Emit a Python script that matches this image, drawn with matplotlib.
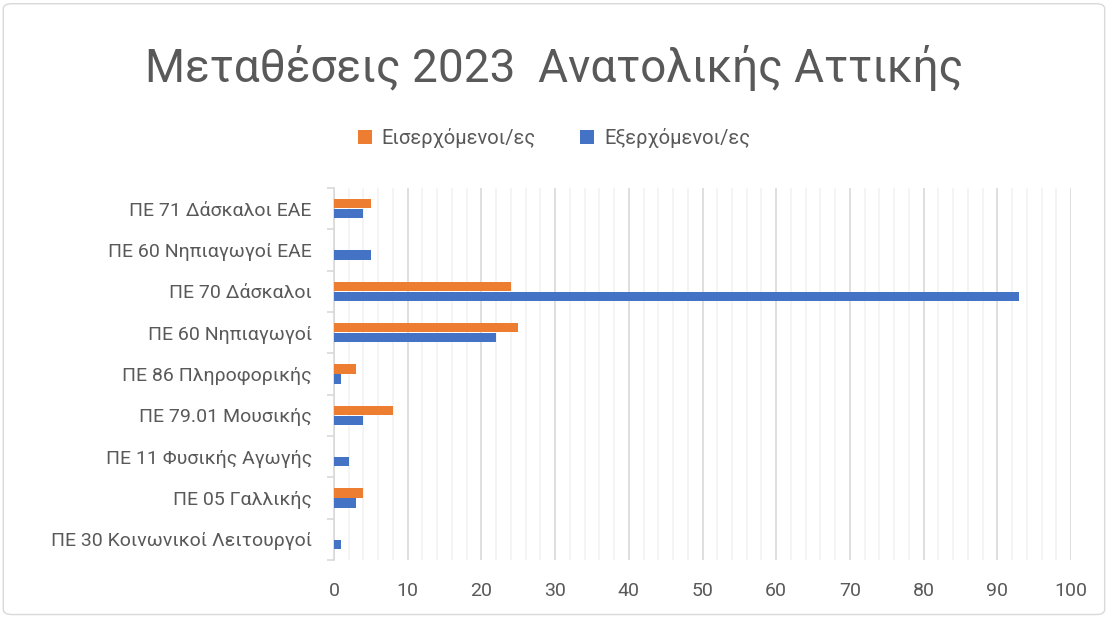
import numpy as np
import matplotlib
matplotlib.use("Agg")
import matplotlib.pyplot as plt
from matplotlib.patches import FancyBboxPatch
from matplotlib.ticker import MultipleLocator

plt.rcParams['font.family'] = ['Roboto', 'DejaVu Sans']

# categories top to bottom
categories = [
    "ΠΕ 71 Δάσκαλοι ΕΑΕ",
    "ΠΕ 60 Νηπιαγωγοί ΕΑΕ",
    "ΠΕ 70 Δάσκαλοι",
    "ΠΕ 60 Νηπιαγωγοί",
    "ΠΕ 86 Πληροφορικής",
    "ΠΕ 79.01 Μουσικής",
    "ΠΕ 11 Φυσικής Αγωγής",
    "ΠΕ 05 Γαλλικής",
    "ΠΕ 30 Κοινωνικοί Λειτουργοί",
]
incoming = [5, 0, 24, 25, 3, 8, 0, 4, 0]
outgoing = [4, 5, 93, 22, 1, 4, 2, 3, 1]
x_ticks = [0, 10, 20, 30, 40, 50, 60, 70, 80, 90, 100]

ORANGE = "#ED7D31"
BLUE = "#4472C4"
TEXT = "#595959"

fig = plt.figure(figsize=(11.08, 6.17), dpi=100)
border = FancyBboxPatch((0.003, 0.004), 0.994, 0.99, boxstyle="round,pad=0,rounding_size=0.008",
                        transform=fig.transFigure, fc="none", ec="#D9D9D9", lw=1, zorder=-1)
fig.patches.append(border)

ax = fig.add_axes([334 / 1108, 1 - 560 / 617, (1071 - 334) / 1108, (560 - 188) / 617])

y = np.arange(len(categories))[::-1].astype(float)
h = 0.22
ax.barh(y + h / 2 + 0.01, incoming, height=h, color=ORANGE, label="Εισερχόμενοι/ες", zorder=3)
ax.barh(y - h / 2 - 0.01, outgoing, height=h, color=BLUE, label="Εξερχόμενοι/ες", zorder=3)

ax.set_xlim(0, 100)
ax.set_ylim(-0.5, len(categories) - 0.5)
ax.set_xticks(x_ticks)
ax.xaxis.set_minor_locator(MultipleLocator(2))
ax.grid(axis="x", which="major", color="#D9D9D9", lw=1.2, zorder=0)
ax.grid(axis="x", which="minor", color="#F2F2F2", lw=1.2, zorder=0)

ax.set_yticks(y)
ax.set_yticklabels(categories)
ax.set_yticks(np.arange(len(categories) + 1) - 0.5, minor=True)
ax.tick_params(axis="y", which="major", length=0, pad=16, labelsize=14, labelcolor=TEXT)
ax.tick_params(axis="y", which="minor", length=5, color="#D9D9D9", width=1.2)
ax.tick_params(axis="x", which="both", length=0, pad=16, labelsize=14, labelcolor=TEXT)

for s in ["top", "right", "bottom"]:
    ax.spines[s].set_visible(False)
ax.spines["left"].set_color("#D9D9D9")
ax.spines["left"].set_linewidth(1.2)

fig.text(0.5, 1 - 68 / 617, "Μεταθέσεις 2023  Ανατολικής Αττικής", ha="center", va="center",
         fontsize=33, color=TEXT)

fig.legend(loc="center", bbox_to_anchor=(0.5, 1 - 138 / 617), ncol=2, frameon=False,
           fontsize=14.5, labelcolor=TEXT, handlelength=0.7, handleheight=0.7,
           columnspacing=2.2, handletextpad=0.5)

fig.savefig("out.png", dpi=100)
